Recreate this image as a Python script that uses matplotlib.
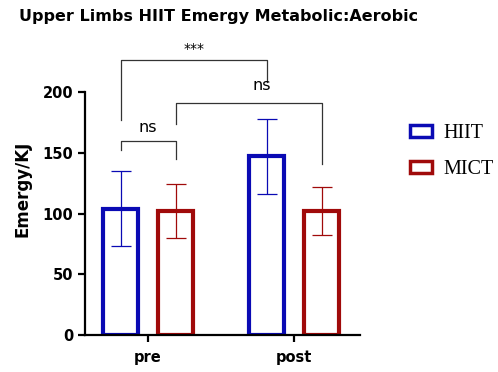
import numpy as np
import matplotlib.pyplot as plt
from matplotlib.patches import Patch

# Data
groups = ['pre', 'post']
hiit_mean = [104, 147]
hiit_sd = [31, 31]
mict_mean = [102, 102]
mict_sd = [22, 20]

blue = '#0a0ab4'
red = '#a00a0a'

fig = plt.figure(figsize=(4.98, 3.72), dpi=100)
ax = fig.add_axes([0.171, 0.0995, 0.552, 0.7837])

x = np.arange(len(groups))
off = 0.188
w = 0.24

ax.bar(x - off, hiit_mean, w, fill=False, edgecolor=blue, linewidth=3)
ax.bar(x + off, mict_mean, w, fill=False, edgecolor=red, linewidth=3)
ax.errorbar(x - off, hiit_mean, yerr=hiit_sd, fmt='none', ecolor=blue,
            elinewidth=0.9, capsize=7, capthick=0.9)
ax.errorbar(x + off, mict_mean, yerr=mict_sd, fmt='none', ecolor=red,
            elinewidth=0.9, capsize=7, capthick=0.9)

ax.set_xlim(-0.43, 1.45)
ax.set_ylim(0, 240)
ax.set_yticks([0, 50, 100, 150, 200])
ax.set_xticks(x)
ax.set_xticklabels(groups)
ax.spines['top'].set_visible(False)
ax.spines['right'].set_visible(False)
ax.spines['left'].set_bounds(0, 200)
ax.spines['left'].set_linewidth(1.6)
ax.spines['bottom'].set_linewidth(1.6)
ax.tick_params(width=1.6, length=5, labelsize=10.5)
ax.tick_params(axis='x', pad=6)
for lbl in ax.get_xticklabels() + ax.get_yticklabels():
    lbl.set_fontweight('bold')
ax.set_ylabel('Emergy/KJ', fontsize=12, fontweight='bold', labelpad=8)


def bracket(x1, x2, top, y1, y2, text, tx=None, ty=None, size=11.5):
    ax.plot([x1, x1, x2, x2], [y1, top, top, y2], color='#333333', lw=0.9,
            clip_on=False)
    if tx is None:
        tx = (x1 + x2) / 2
    if ty is None:
        ty = top + 4
    ax.text(tx, ty, text, ha='center', va='bottom', fontsize=size,
            clip_on=False)


bracket(-off, off, 160, 152, 145, 'ns', ty=165)
bracket(off, 1 + off, 191, 174, 141, 'ns', tx=0.78, ty=199)
bracket(-off, 1 - off, 226, 177, 208, '***', size=10)

ax.set_title('Upper Limbs HIIT Emergy Metabolic:Aerobic', fontsize=11.5,
             fontweight='bold', x=-0.24, ha='left', y=1.05)

handles = [Patch(facecolor='white', edgecolor=blue, linewidth=2.5, label='HIIT'),
           Patch(facecolor='white', edgecolor=red, linewidth=2.5, label='MICT')]
fig.legend(handles=handles, loc='upper left', bbox_to_anchor=(0.786, 0.715),
           frameon=False, prop={'family': 'Liberation Serif', 'size': 14.5},
           handlelength=1.1, handleheight=0.5, handletextpad=0.6,
           labelspacing=0.85)

fig.savefig('out.png', dpi=100)
